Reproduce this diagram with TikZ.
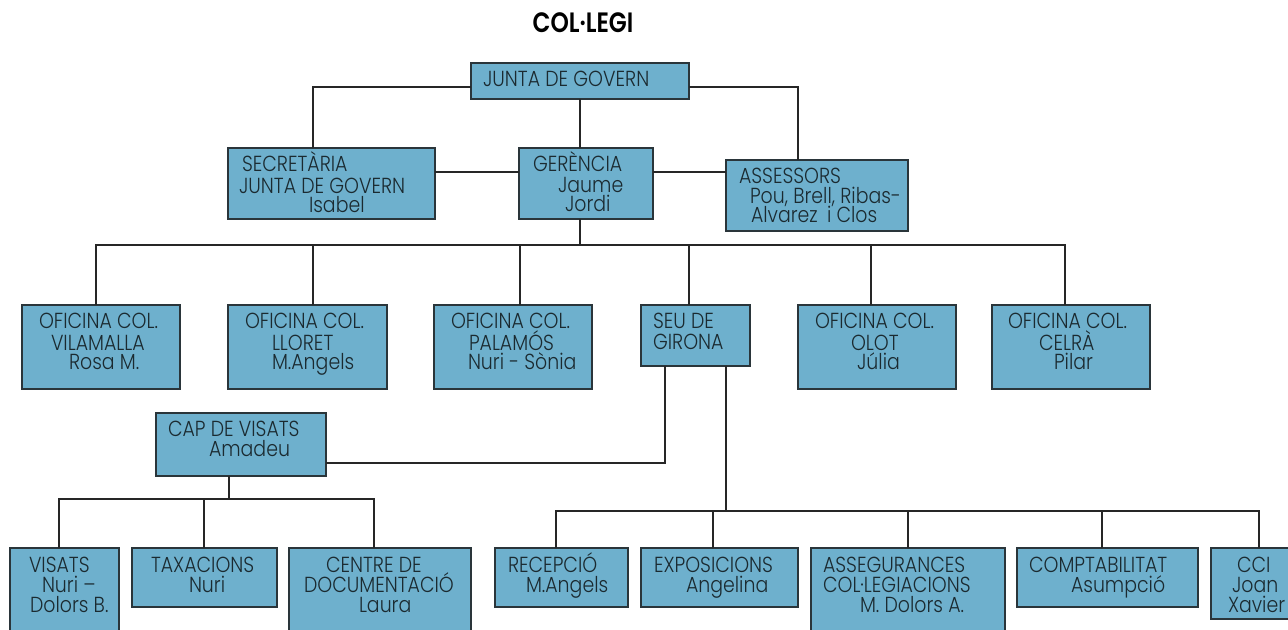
\documentclass[tikz,border=0pt]{standalone}
\usepackage{fontspec}
\setmainfont{Poppins}[UprightFont=* Light, BoldFont=* SemiBold]
\definecolor{boxfill}{HTML}{6EB0CD}
\definecolor{boxline}{HTML}{2A353A}
\definecolor{txtc}{HTML}{1B2A30}
\newcommand{\bx}[5]{\node[orgbox, minimum width={(#4-#2)*0.75pt}, minimum height={(#5-#3)*0.75pt}, anchor=north west] (#1) at (#2,#3) {};}
\newcommand{\tl}[4]{\node[orgtxt] (#1) at (#2,#3) {\scalebox{1}[1.15]{#4}};}
\begin{document}
\begin{tikzpicture}[x=0.75pt,y=-0.75pt,
  orgbox/.style={draw=boxline, fill=boxfill, line width=1pt, inner sep=0pt, outer sep=0pt},
  orgtxt/.style={anchor=base west, inner sep=0pt, outer sep=0pt, text=txtc, font=\fontsize{14.2}{15}\selectfont},
  conn/.style={draw=black!85, line width=0.95pt}]
\useasboundingbox (0,0) rectangle (1288,630);
\clip (0,0) rectangle (1288,630);
% title
\node[anchor=base, inner sep=0pt, font=\bfseries\fontsize{17.5}{20}\selectfont] (title) at (583,33) {\scalebox{1}[1.2]{COL·LEGI}};
% bus coordinates
\coordinate (busA) at (580,245);
\coordinate (busB) at (229,499);
\coordinate (busC) at (726,511);
% boxes
\bx{junta}{471}{63}{689}{99}
\bx{sec}{228}{148}{435}{219}
\bx{ger}{519}{148}{653}{219}
\bx{ass}{726}{160}{908}{231}
\bx{vil}{22}{305}{180}{389}
\bx{llo}{228}{305}{387}{389}
\bx{pal}{434}{305}{592}{389}
\bx{seu}{641}{305}{750}{366}
\bx{olo}{798}{305}{956}{389}
\bx{cel}{992}{305}{1150}{389}
\bx{cap}{156}{413}{326}{476}
\bx{vis}{10}{548}{119}{650}
\bx{tax}{132}{548}{277}{607}
\bx{cen}{289}{548}{471}{650}
\bx{rec}{495}{548}{628}{607}
\bx{exp}{641}{548}{798}{607}
\bx{asg}{811}{548}{1005}{650}
\bx{com}{1017}{548}{1198}{607}
\bx{cci}{1211}{548}{1300}{619}
% connectors
\draw[conn] (junta.west |- 0,87) -| (313,0 |- sec.north);
\draw[conn] (junta.south) -- (junta.south |- ger.north);
\draw[conn] (junta.east |- 0,87) -| (798,0 |- ass.north);
\draw[conn] (sec.east |- 0,172) -- (ger.west |- 0,172);
\draw[conn] (ger.east |- 0,172) -- (ass.west |- 0,172);
\draw[conn] (busA |- ger.south) -- (busA);
\draw[conn] (vil.north -| 96,0) |- (busA) -| (1065,0 |- cel.north);
\draw[conn] (313,0 |- llo.north) -- (313,0 |- busA);
\draw[conn] (520,0 |- pal.north) -- (520,0 |- busA);
\draw[conn] (689,0 |- seu.north) -- (689,0 |- busA);
\draw[conn] (871,0 |- olo.north) -- (871,0 |- busA);
\draw[conn] (665,0 |- seu.south) |- (cap.east |- 0,463);
\draw[conn] (seu.south -| busC) -- (busC);
\draw[conn] (cap.south -| busB) -- (busB);
\draw[conn] (59,0 |- vis.north) |- (busB) -| (374,0 |- cen.north);
\draw[conn] (204,0 |- tax.north) -- (204,0 |- busB);
\draw[conn] (556,0 |- rec.north) |- (busC) -| (1259,0 |- cci.north);
\draw[conn] (713,0 |- exp.north) -- (713,0 |- busC);
\draw[conn] (908,0 |- asg.north) -- (908,0 |- busC);
\draw[conn] (1102,0 |- com.north) -- (1102,0 |- busC);
% texts
\tl{junta1}{483}{87}{JUNTA DE GOVERN}
\tl{sec1}{242}{172}{SECRETÀRIA}
\tl{sec2}{239}{194}{JUNTA DE GOVERN}
\tl{sec3}{309}{213}{Isabel}
\tl{ger1}{533}{172}{GERÈNCIA}
\tl{ger2}{558}{193}{Jaume}
\tl{ger3}{565}{212}{Jordi}
\tl{ass1}{739}{184}{ASSESSORS}
\tl{ass2}{750}{204}{Pou, Brell, Ribas-}
\tl{ass3}{751}{223}{\makebox[57pt][l]{Alvarez}i Clos}
\tl{vil1}{39}{329}{OFICINA COL.}
\tl{vil2}{51}{351}{VILAMALLA}
\tl{vil3}{69}{370}{Rosa M.}
\tl{llo1}{245}{329}{OFICINA COL.}
\tl{llo2}{272}{351}{LLORET}
\tl{llo3}{272}{370}{M.Angels}
\tl{pal1}{451}{329}{OFICINA COL.}
\tl{pal2}{469}{351}{PALAMÓS}
\tl{pal3}{468}{370}{Nuri - Sònia}
\tl{seu1}{653}{329}{SEU DE}
\tl{seu2}{653}{350}{GIRONA}
\tl{olo1}{815}{329}{OFICINA COL.}
\tl{olo2}{851}{351}{OLOT}
\tl{olo3}{857}{370}{Júlia}
\tl{cel1}{1008}{329}{OFICINA COL.}
\tl{cel2}{1039}{351}{CELRÀ}
\tl{cel3}{1054}{370}{Pilar}
\tl{cap1}{168}{437}{CAP DE VISATS}
\tl{cap2}{209}{457}{Amadeu}
\tl{vis1}{29}{572}{VISATS}
\tl{vis2}{42}{592}{Nuri –}
\tl{vis3}{30}{612}{Dolors B.}
\tl{tax1}{151}{572}{TAXACIONS}
\tl{tax2}{189}{592}{Nuri}
\tl{cen1}{326}{572}{CENTRE DE}
\tl{cen2}{304}{592}{DOCUMENTACIÓ}
\tl{cen3}{359}{612}{Laura}
\tl{rec1}{508}{572}{RECEPCIÓ}
\tl{rec2}{526}{592}{M.Angels}
\tl{exp1}{654}{572}{EXPOSICIONS}
\tl{exp2}{686}{592}{Angelina}
\tl{asg1}{823}{572}{ASSEGURANCES}
\tl{asg2}{823}{592}{COL·LEGIACIONS}
\tl{asg3}{860}{612}{M. Dolors A.}
\tl{com1}{1029}{572}{COMPTABILITAT}
\tl{com2}{1071}{592}{Asumpció}
\tl{cci1}{1237}{572}{CCI}
\tl{cci2}{1232}{592}{Joan}
\tl{cci3}{1228}{612}{Xavier}
\end{tikzpicture}
\end{document}
